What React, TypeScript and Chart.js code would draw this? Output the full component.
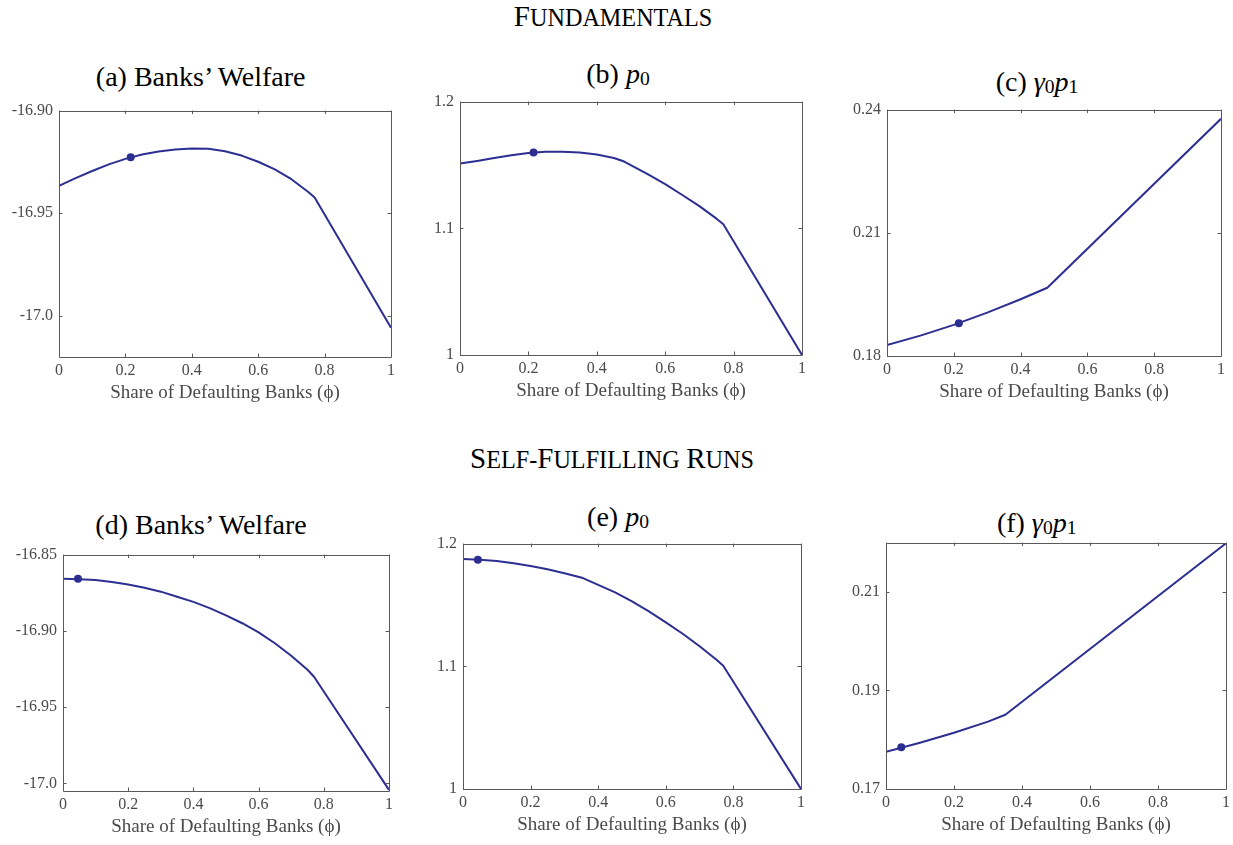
import React, { useEffect, useRef } from "react";
import { Chart, registerables } from "chart.js";
Chart.register(...registerables);

// ---------- shared axis data ----------
const phiTicks = [0, 0.2, 0.4, 0.6, 0.8, 1];
const phiTickLabels = ["0", "0.2", "0.4", "0.6", "0.8", "1"];
const xAxisTitle = "Share of Defaulting Banks (ϕ)";

// ---------- Fundamentals ----------
// (a) Banks' Welfare
const phiA = [0, 0.05, 0.1, 0.15, 0.2, 0.25, 0.3, 0.35, 0.4, 0.45, 0.5, 0.55, 0.6, 0.65, 0.7, 0.75, 0.77, 1];
const welfareA = [-16.9367, -16.9329, -16.9294, -16.9262, -16.9235, -16.9214, -16.9199, -16.919, -16.9185, -16.9186, -16.9198, -16.9219, -16.9249, -16.9286, -16.9334, -16.9395, -16.9423, -17.0058];
const optA = [0.216, -16.9227];
const yTicksA = [-17.0, -16.95, -16.9];
const yLabelsA = ["-17.0", "-16.95", "-16.90"];

// (b) p0
const phiB = [0, 0.05, 0.1, 0.15, 0.2, 0.25, 0.3, 0.35, 0.4, 0.45, 0.48, 0.55, 0.6, 0.65, 0.7, 0.75, 0.77, 1];
const p0B = [1.1511, 1.1532, 1.1555, 1.1576, 1.1594, 1.1604, 1.1604, 1.1599, 1.1583, 1.1555, 1.1527, 1.1426, 1.1348, 1.1263, 1.1175, 1.1076, 1.1032, 1.0];
const optB = [0.215, 1.1598];
const yTicksB = [1, 1.1, 1.2];
const yLabelsB = ["1", "1.1", "1.2"];

// (c) gamma0 p1
const phiC = [0, 0.1, 0.2, 0.3, 0.4, 0.48, 1];
const gpC = [0.18264, 0.18496, 0.18759, 0.19055, 0.19382, 0.19662, 0.23776];
const optC = [0.215, 0.18799];
const yTicksC = [0.18, 0.21, 0.24];
const yLabelsC = ["0.18", "0.21", "0.24"];

// ---------- Self-Fulfilling Runs ----------
// (d) Banks' Welfare
const phiD = [0, 0.05, 0.1, 0.15, 0.2, 0.25, 0.3, 0.35, 0.4, 0.45, 0.5, 0.55, 0.6, 0.65, 0.7, 0.75, 0.77, 1];
const welfareD = [-16.8659, -16.8661, -16.8666, -16.8679, -16.8696, -16.8717, -16.8743, -16.8776, -16.881, -16.8851, -16.8898, -16.895, -16.901, -16.9081, -16.9163, -16.9255, -16.9301, -17.0043];
const optD = [0.046, -16.8659];
const yTicksD = [-17.0, -16.95, -16.9, -16.85];
const yLabelsD = ["-17.0", "-16.95", "-16.90", "-16.85"];

// (e) p0
const phiE = [0, 0.05, 0.1, 0.15, 0.2, 0.25, 0.3, 0.355, 0.4, 0.45, 0.5, 0.55, 0.6, 0.65, 0.7, 0.75, 0.77, 1];
const p0E = [1.1874, 1.1869, 1.1858, 1.184, 1.1818, 1.1791, 1.1759, 1.1719, 1.1663, 1.1602, 1.1529, 1.1447, 1.1358, 1.1265, 1.1163, 1.1053, 1.1005, 1.0];
const optE = [0.044, 1.1869];
const yTicksE = [1, 1.1, 1.2];
const yLabelsE = ["1", "1.1", "1.2"];

// (f) gamma0 p1
const phiF = [0, 0.1, 0.2, 0.3, 0.351, 1];
const gpF = [0.17753, 0.1794, 0.1814, 0.18367, 0.18507, 0.21987];
const optF = [0.045, 0.17847];
const yTicksF = [0.17, 0.19, 0.21];
const yLabelsF = ["0.17", "0.19", "0.21"];

// ---------- styles ----------
const LINE = "#2c2f91";
const AXIS = "#595959";
const TEXT = "#4a4a4a";
const SERIF = "'Liberation Serif', 'Times New Roman', serif";

type PanelProps = {
  rect: [number, number, number, number]; // l, t, r, b
  xs: number[];
  ys: number[];
  opt: number[];
  yMin: number;
  yMax: number;
  yTicks: number[];
  yLabels: string[];
};

const PAD_L = 70;
const PAD_T = 12;
const PAD_R = 14;
const PAD_B = 50;

const boxPlugin = {
  id: "matlabBox",
  afterDatasetsDraw(chart: any) {
    const { ctx, chartArea } = chart;
    const { left, top, right, bottom } = chartArea;
    const xs = chart.scales.x;
    const ys = chart.scales.y;
    const tl = 3.5;
    ctx.save();
    ctx.strokeStyle = AXIS;
    ctx.lineWidth = 1;
    ctx.beginPath();
    ctx.rect(Math.round(left) + 0.5, Math.round(top) + 0.5, Math.round(right - left), Math.round(bottom - top));
    ctx.stroke();
    ctx.beginPath();
    xs.ticks.forEach((t: any) => {
      const px = Math.round(xs.getPixelForValue(t.value)) + 0.5;
      ctx.moveTo(px, bottom);
      ctx.lineTo(px, bottom - tl);
      ctx.moveTo(px, top);
      ctx.lineTo(px, top + tl);
    });
    ys.ticks.forEach((t: any) => {
      const py = Math.round(ys.getPixelForValue(t.value)) + 0.5;
      ctx.moveTo(left, py);
      ctx.lineTo(left + tl, py);
      ctx.moveTo(right, py);
      ctx.lineTo(right - tl, py);
    });
    ctx.stroke();
    ctx.restore();
  },
};

function Panel({ rect, xs, ys, opt, yMin, yMax, yTicks, yLabels }: PanelProps) {
  const ref = useRef<HTMLCanvasElement | null>(null);
  const [l, t, r, b] = rect;
  const w = r - l + PAD_L + PAD_R;
  const h = b - t + PAD_T + PAD_B;

  useEffect(() => {
    if (!ref.current) return;
    const chart = new Chart(ref.current, {
      type: "line",
      data: {
        datasets: [
          {
            data: xs.map((x, i) => ({ x, y: ys[i] })),
            borderColor: LINE,
            borderWidth: 2,
            pointRadius: 0,
            tension: 0,
            fill: false,
            borderJoinStyle: "round",
          } as any,
          {
            type: "scatter",
            data: [{ x: opt[0], y: opt[1] }],
            pointRadius: 4,
            pointBackgroundColor: LINE,
            pointBorderColor: LINE,
            pointBorderWidth: 0,
            showLine: false,
          } as any,
        ],
      },
      options: {
        animation: false,
        responsive: false,
        maintainAspectRatio: false,
        devicePixelRatio: 1,
        layout: { padding: { left: 0, top: PAD_T, right: PAD_R, bottom: 0 } },
        plugins: {
          legend: { display: false },
          tooltip: { enabled: false },
          title: { display: false },
        },
        scales: {
          x: {
            type: "linear",
            min: 0,
            max: 1,
            afterBuildTicks: (s: any) => {
              s.ticks = phiTicks.map((v) => ({ value: v }));
            },
            afterFit: (s: any) => {
              s.height = PAD_B;
            },
            grid: { display: false, drawTicks: false },
            border: { display: false },
            ticks: {
              autoSkip: false,
              maxRotation: 0,
              padding: 4,
              color: TEXT,
              font: { family: SERIF, size: 16 },
              callback: (_v: any, i: number) => phiTickLabels[i],
            },
            title: {
              display: true,
              text: xAxisTitle,
              color: TEXT,
              font: { family: SERIF, size: 19, lineHeight: 1 },
              padding: { top: 0, bottom: 4 },
            },
          },
          y: {
            type: "linear",
            min: yMin,
            max: yMax,
            afterBuildTicks: (s: any) => {
              s.ticks = yTicks.map((v) => ({ value: v }));
            },
            afterFit: (s: any) => {
              s.width = PAD_L;
            },
            grid: { display: false, drawTicks: false },
            border: { display: false },
            ticks: {
              autoSkip: false,
              padding: 6,
              color: TEXT,
              font: { family: SERIF, size: 16 },
              callback: (_v: any, i: number) => yLabels[i],
            },
          },
        },
      } as any,
      plugins: [boxPlugin],
    });
    return () => chart.destroy();
  }, []);

  return (
    <canvas
      ref={ref}
      width={w}
      height={h}
      style={{ position: "absolute", left: l - PAD_L, top: t - PAD_T, width: w, height: h }}
    />
  );
}

function PanelTitle({ cx, baseline, children }: { cx: number; baseline: number; children: React.ReactNode }) {
  const fs = 28;
  return (
    <div
      style={{
        position: "absolute",
        left: cx - 200,
        width: 400,
        top: baseline - 23.45,
        textAlign: "center",
        fontFamily: SERIF,
        fontSize: fs,
        lineHeight: `${fs}px`,
        color: "#000",
        whiteSpace: "nowrap",
      }}
    >
      {children}
    </div>
  );
}

const Sub = ({ children }: { children: React.ReactNode }) => (
  <span style={{ fontSize: "0.7em", fontStyle: "normal", position: "relative", top: "0.12em" }}>{children}</span>
);

function SectionTitle({ cx, baseline, parts }: { cx: number; baseline: number; parts: string[] }) {
  // parts: words; first letter at full size, rest as small capitals
  return (
    <div
      style={{
        position: "absolute",
        left: cx - 300,
        width: 600,
        top: baseline - 24.3,
        textAlign: "center",
        fontFamily: SERIF,
        fontSize: 29,
        lineHeight: "29px",
        color: "#000",
        whiteSpace: "nowrap",
      }}
    >
      {parts.map((word, wi) => (
        <React.Fragment key={wi}>
          {wi > 0 ? <span style={{ fontSize: 26 }}> </span> : null}
          {word.split("-").map((seg, si) => (
            <React.Fragment key={si}>
              {si > 0 ? <span style={{ fontSize: 24.2 }}>-</span> : null}
              <span>{seg.charAt(0)}</span>
              <span style={{ fontSize: 24.2, textTransform: "uppercase" }}>{seg.slice(1)}</span>
            </React.Fragment>
          ))}
        </React.Fragment>
      ))}
    </div>
  );
}

export default function App() {
  return (
    <div
      style={{
        position: "absolute",
        left: 0,
        top: 0,
        width: 1233,
        height: 845,
        background: "#fff",
        overflow: "hidden",
      }}
    >
      <SectionTitle cx={613} baseline={26.7} parts={["Fundamentals"]} />
      <SectionTitle cx={612} baseline={468.3} parts={["Self-Fulfilling", "Runs"]} />

      <PanelTitle cx={200.7} baseline={86}>(a) Banks’ Welfare</PanelTitle>
      <PanelTitle cx={618} baseline={83.5}>
        (b) <i>p</i>
        <Sub>0</Sub>
      </PanelTitle>
      <PanelTitle cx={1037} baseline={91}>
        (c) <i>γ</i>
        <Sub>0</Sub>
        <i>p</i>
        <Sub>1</Sub>
      </PanelTitle>
      <PanelTitle cx={201} baseline={534}>(d) Banks’ Welfare</PanelTitle>
      <PanelTitle cx={618} baseline={526}>
        (e) <i>p</i>
        <Sub>0</Sub>
      </PanelTitle>
      <PanelTitle cx={1036.7} baseline={532}>
        (f) <i>γ</i>
        <Sub>0</Sub>
        <i>p</i>
        <Sub>1</Sub>
      </PanelTitle>

      <Panel rect={[59, 107, 391, 357]} xs={phiA} ys={welfareA} opt={optA} yMin={-17.02} yMax={-16.9} yTicks={yTicksA} yLabels={yLabelsA} />
      <Panel rect={[460, 98, 802, 355]} xs={phiB} ys={p0B} opt={optB} yMin={1.0} yMax={1.2} yTicks={yTicksB} yLabels={yLabelsB} />
      <Panel rect={[887, 106, 1221, 356]} xs={phiC} ys={gpC} opt={optC} yMin={0.18} yMax={0.24} yTicks={yTicksC} yLabels={yLabelsC} />
      <Panel rect={[63, 551, 389, 791]} xs={phiD} ys={welfareD} opt={optD} yMin={-17.005} yMax={-16.85} yTicks={yTicksD} yLabels={yLabelsD} />
      <Panel rect={[463, 540, 801, 789]} xs={phiE} ys={p0E} opt={optE} yMin={1.0} yMax={1.2} yTicks={yTicksE} yLabels={yLabelsE} />
      <Panel rect={[886, 539, 1226, 789]} xs={phiF} ys={gpF} opt={optF} yMin={0.17} yMax={0.22} yTicks={yTicksF} yLabels={yLabelsF} />
    </div>
  );
}
